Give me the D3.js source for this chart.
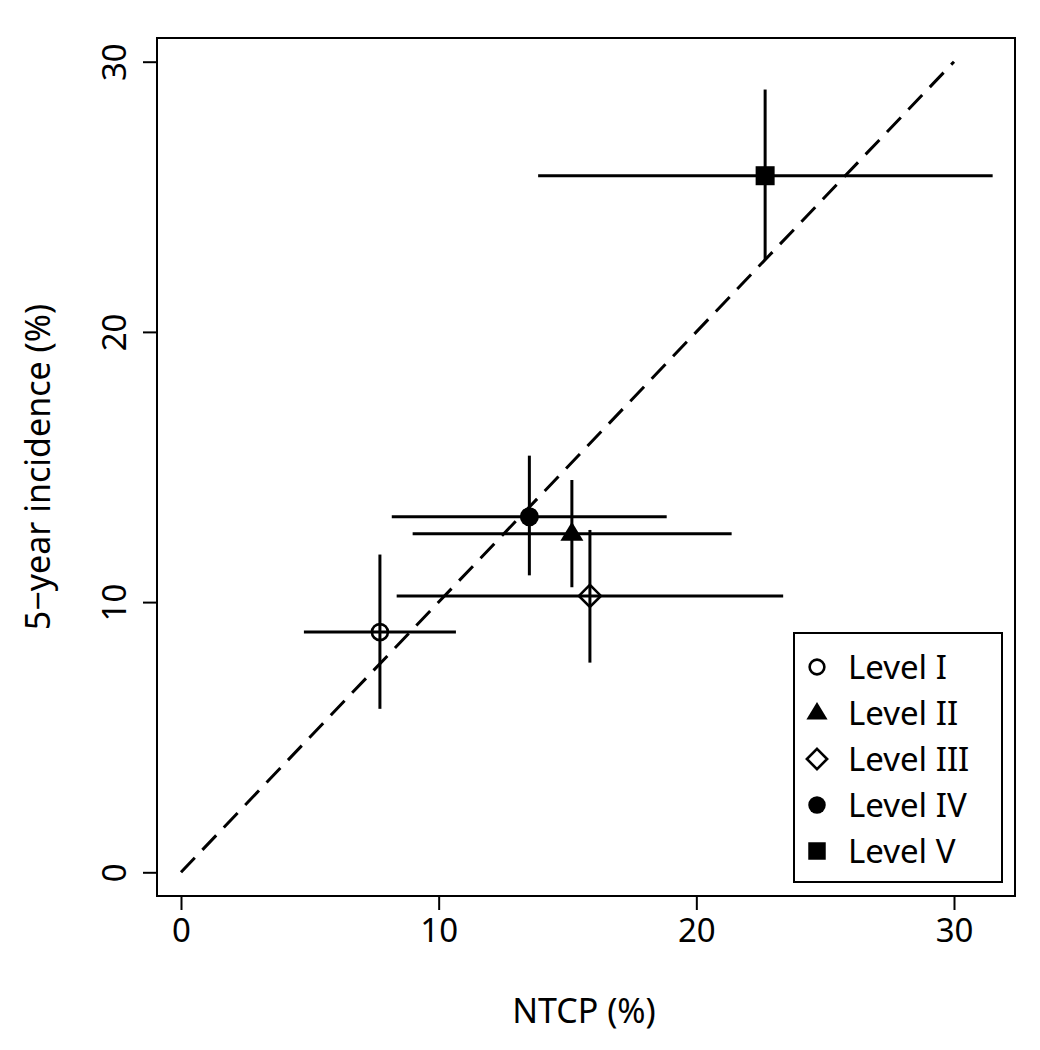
<!DOCTYPE html>
<html>
<head>
<meta charset="utf-8">
<script src="https://cdn.jsdelivr.net/npm/d3@7"></script>
<style>
  html, body { margin: 0; padding: 0; background: #fff; }
  svg { display: block; }
  text { font-family: "Noto Sans", "Open Sans", sans-serif; fill: #000; }
</style>
</head>
<body>
<svg id="chart" width="1040" height="1050"></svg>
<script>
// ---- data ----
const levels   = ["Level I", "Level II", "Level III", "Level IV", "Level V"];
const symbols  = ["circleOpen", "triangle", "diamondOpen", "circle", "square"];
const ntcp     = [7.72, 15.17, 15.87, 13.52, 22.67];
const ntcpLo   = [4.77, 8.99, 8.37, 8.18, 13.86];
const ntcpHi   = [10.67, 21.37, 23.37, 18.85, 31.50];
const incid    = [8.89, 12.53, 10.23, 13.16, 25.78];
const incidLo  = [6.05, 10.55, 7.76, 10.99, 22.68];
const incidHi  = [11.76, 14.52, 12.67, 15.42, 28.97];
const xTicks   = [0, 10, 20, 30];
const yTicks   = [0, 10, 20, 30];
const identity = [0, 30];
const xLabel = "NTCP (%)";
const yLabel = "5\u2212year incidence (%)";

// ---- layout ----
const svg = d3.select("#chart");
const box = { left: 157, right: 1015, top: 38, bottom: 896 };
const x = d3.scaleLinear().domain([0, 30]).range([181, 954]);
const y = d3.scaleLinear().domain([0, 30]).range([872.3, 61.7]);

// identity dashed line
svg.append("line")
  .attr("x1", x(identity[0])).attr("y1", y(identity[0]))
  .attr("x2", x(identity[1])).attr("y2", y(identity[1]))
  .attr("stroke", "#000").attr("stroke-width", 3)
  .attr("stroke-dasharray", "20,11");

// error bars
const rows = levels.map((l, i) => ({ l, s: symbols[i], x: ntcp[i], xl: ntcpLo[i], xh: ntcpHi[i], y: incid[i], yl: incidLo[i], yh: incidHi[i] }));
const g = svg.append("g");
g.selectAll("line.h").data(rows).enter().append("line")
  .attr("x1", d => x(d.xl)).attr("x2", d => x(d.xh))
  .attr("y1", d => y(d.y)).attr("y2", d => y(d.y))
  .attr("stroke", "#000").attr("stroke-width", 3);
g.selectAll("line.v").data(rows).enter().append("line")
  .attr("x1", d => x(d.x)).attr("x2", d => x(d.x))
  .attr("y1", d => y(d.yl)).attr("y2", d => y(d.yh))
  .attr("stroke", "#000").attr("stroke-width", 3);

function drawSymbol(sel, type, cx, cy, scale) {
  const s = scale || 1;
  if (type === "circleOpen") {
    sel.append("circle").attr("cx", cx).attr("cy", cy).attr("r", 8 * s)
      .attr("fill", "none").attr("stroke", "#000").attr("stroke-width", 2.6);
  } else if (type === "circle") {
    sel.append("circle").attr("cx", cx).attr("cy", cy).attr("r", 9.5 * s).attr("fill", "#000");
  } else if (type === "square") {
    const h = 9.5 * s;
    sel.append("rect").attr("x", cx - h).attr("y", cy - h).attr("width", 2 * h).attr("height", 2 * h).attr("fill", "#000");
  } else if (type === "triangle") {
    const w = 11.5 * s;
    sel.append("path").attr("d", `M${cx},${cy - 12 * s} L${cx + w},${cy + 7 * s} L${cx - w},${cy + 7 * s} Z`).attr("fill", "#000");
  } else if (type === "diamondOpen") {
    const r = 11 * s;
    sel.append("path").attr("d", `M${cx},${cy - r} L${cx + r},${cy} L${cx},${cy + r} L${cx - r},${cy} Z`)
      .attr("fill", "none").attr("stroke", "#000").attr("stroke-width", 2.6);
  }
}
rows.forEach(d => drawSymbol(g, d.s, x(d.x), y(d.y)));

// plot box
svg.append("rect")
  .attr("x", box.left).attr("y", box.top)
  .attr("width", box.right - box.left).attr("height", box.bottom - box.top)
  .attr("fill", "none").attr("stroke", "#000").attr("stroke-width", 2);

// x axis
const xAxis = d3.axisBottom(x).tickValues(xTicks).tickSize(13).tickPadding(8).tickFormat(d3.format("d"));
const gx = svg.append("g").attr("transform", `translate(0,${box.bottom + 1})`).call(xAxis);
gx.select(".domain").remove();
gx.selectAll(".tick line").attr("stroke", "#000").attr("stroke-width", 2);
gx.selectAll(".tick text").attr("font-size", 33).attr("font-family", "Noto Sans, sans-serif").attr("dy", "0.74em");

// y axis (rotated labels)
const yAxis = d3.axisLeft(y).tickValues(yTicks).tickSize(14).tickFormat(d3.format("d"));
const gy = svg.append("g").attr("transform", `translate(${box.left},0)`).call(yAxis);
gy.select(".domain").remove();
gy.selectAll(".tick line").attr("stroke", "#000").attr("stroke-width", 2);
gy.selectAll(".tick text")
  .attr("font-size", 33).attr("font-family", "Noto Sans, sans-serif")
  .attr("x", null).attr("dy", null)
  .attr("text-anchor", "middle")
  .attr("transform", "translate(-31,0) rotate(-90)");

// axis labels
svg.append("text").attr("x", 584).attr("y", 1023).attr("text-anchor", "middle")
  .attr("font-size", 34).text(xLabel);
svg.append("text").attr("transform", "translate(50,467) rotate(-90)").attr("text-anchor", "middle")
  .attr("font-size", 34).text(yLabel);

// legend
const lg = svg.append("g");
lg.append("rect").attr("x", 794).attr("y", 633).attr("width", 208).attr("height", 249)
  .attr("fill", "#fff").attr("stroke", "#000").attr("stroke-width", 2);
levels.forEach((l, i) => {
  const cy = 667 + i * 46;
  drawSymbol(lg, symbols[i], 817, cy, 0.92);
  lg.append("text").attr("x", 848).attr("y", cy).attr("dy", "0.36em")
    .attr("font-size", 33).text(l);
});
</script>
</body>
</html>
